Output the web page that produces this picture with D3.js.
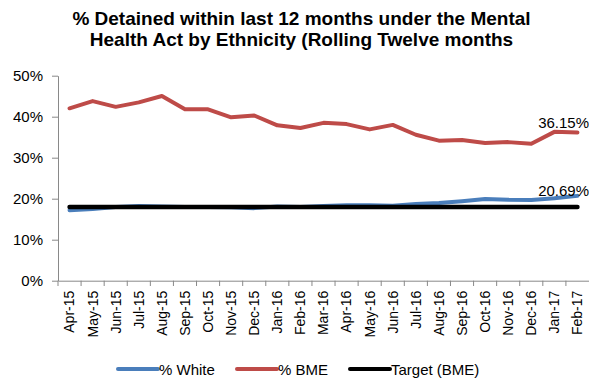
<!DOCTYPE html>
<html><head><meta charset="utf-8">
<script src="https://cdn.jsdelivr.net/npm/d3@7"></script>
<style>body{margin:0;background:#fff;}svg{display:block;font-family:"Liberation Sans",Arial,sans-serif;}</style>
</head><body>
<svg id="c" width="589" height="379"></svg>
<script>
const categories = ["Apr-15","May-15","Jun-15","Jul-15","Aug-15","Sep-15","Oct-15","Nov-15","Dec-15","Jan-16","Feb-16","Mar-16","Apr-16","May-16","Jun-16","Jul-16","Aug-16","Sep-16","Oct-16","Nov-16","Dec-16","Jan-17","Feb-17"];
const white = [17.2,17.5,18.0,18.2,18.1,18.0,18.0,17.9,17.7,18.1,18.0,18.2,18.4,18.4,18.3,18.7,18.95,19.4,19.95,19.75,19.7,20.1,20.69];
const bme = [42.05,43.8,42.4,43.5,45.05,41.8,41.8,39.85,40.3,37.9,37.25,38.5,38.2,36.9,38.0,35.6,34.15,34.3,33.6,33.8,33.4,36.3,36.15];
const target = [18,18,18,18,18,18,18,18,18,18,18,18,18,18,18,18,18,18,18,18,18,18,18];
const yTicks = [0,10,20,30,40,50];
const titleLines = ["% Detained within last 12 months under the Mental","Health Act by Ethnicity (Rolling Twelve months"];
const seriesNames = ["% White","% BME","Target (BME)"];
const colors = ["#4a7ebb","#be4b48","#000000"];

const svg = d3.select("#c");
const x = d3.scaleBand().domain(categories).range([58, 589]);
const y = d3.scaleLinear().domain([0,50]).range([280.7, 75.7]);

// title
svg.append("g").selectAll("text").data(titleLines).join("text")
  .attr("x", 301.5).attr("y", (d,i)=>25 + i*21)
  .attr("text-anchor","middle").attr("font-weight","bold").attr("font-size","19px").attr("fill","#000")
  .text(d=>d);

// y axis
const yAxis = svg.append("g").attr("transform","translate(58,0)")
  .call(d3.axisLeft(y).tickValues(yTicks).tickFormat(d=>d+"%").tickSize(6).tickSizeOuter(0));
yAxis.select(".domain").attr("stroke","#898989");
yAxis.selectAll(".tick line").attr("stroke","#898989");
yAxis.selectAll(".tick text").attr("font-size","15px").attr("fill","#000").attr("x",-15).attr("font-family","Liberation Sans, Arial, sans-serif");

// x axis
const xAxis = svg.append("g").attr("transform","translate(0,280.7)")
  .call(d3.axisBottom(x).tickSize(0).tickSizeOuter(0));
xAxis.select(".domain").attr("stroke","#898989");
xAxis.selectAll(".tick line").remove();
// ticks at band boundaries
svg.append("g").selectAll("line").data(categories).join("line")
  .attr("x1", d=>x(d)).attr("x2", d=>x(d)).attr("y1",280.7).attr("y2",286)
  .attr("stroke","#898989");
xAxis.selectAll(".tick text")
  .attr("font-size","14px").attr("fill","#000").attr("font-family","Liberation Sans, Arial, sans-serif")
  .attr("transform","rotate(-90)").attr("text-anchor","end")
  .attr("x",-10).attr("y",0).attr("dy","0.35em");

const line = d3.line().x((d,i)=>x(categories[i]) + x.bandwidth()/2).y(d=>y(d));
const allSeries = [white, bme, target];
const order = [0,1,2];
svg.append("g").selectAll("path").data(order).join("path")
  .attr("d", i=>line(allSeries[i])).attr("fill","none")
  .attr("stroke", i=>colors[i]).attr("stroke-width", i=> i===2?4.5:4)
  .attr("stroke-linejoin","round").attr("stroke-linecap","round");

// end labels
const last = categories.length-1;
const labelOffsets = [-4, 0.5];
svg.append("g").selectAll("text").data([bme[last], white[last]]).join("text")
  .attr("x", 589).attr("y", (d,i)=>y(d) + labelOffsets[i]).attr("text-anchor","end")
  .attr("font-size","15px").attr("fill","#000")
  .text(d=>d.toFixed(2)+"%");

// legend
const legX = [118, 237, 350];
const lg = svg.append("g").selectAll("g").data(seriesNames).join("g")
  .attr("transform",(d,i)=>`translate(${legX[i]},369)`);
lg.append("line").attr("x1",0).attr("x2",40).attr("y1",0).attr("y2",0)
  .attr("stroke",(d,i)=>colors[i]).attr("stroke-width",4).attr("stroke-linecap","round");
lg.append("text").attr("x",41).attr("y",5.5).attr("font-size","15px").attr("fill","#000").text(d=>d);
</script>
</body></html>
